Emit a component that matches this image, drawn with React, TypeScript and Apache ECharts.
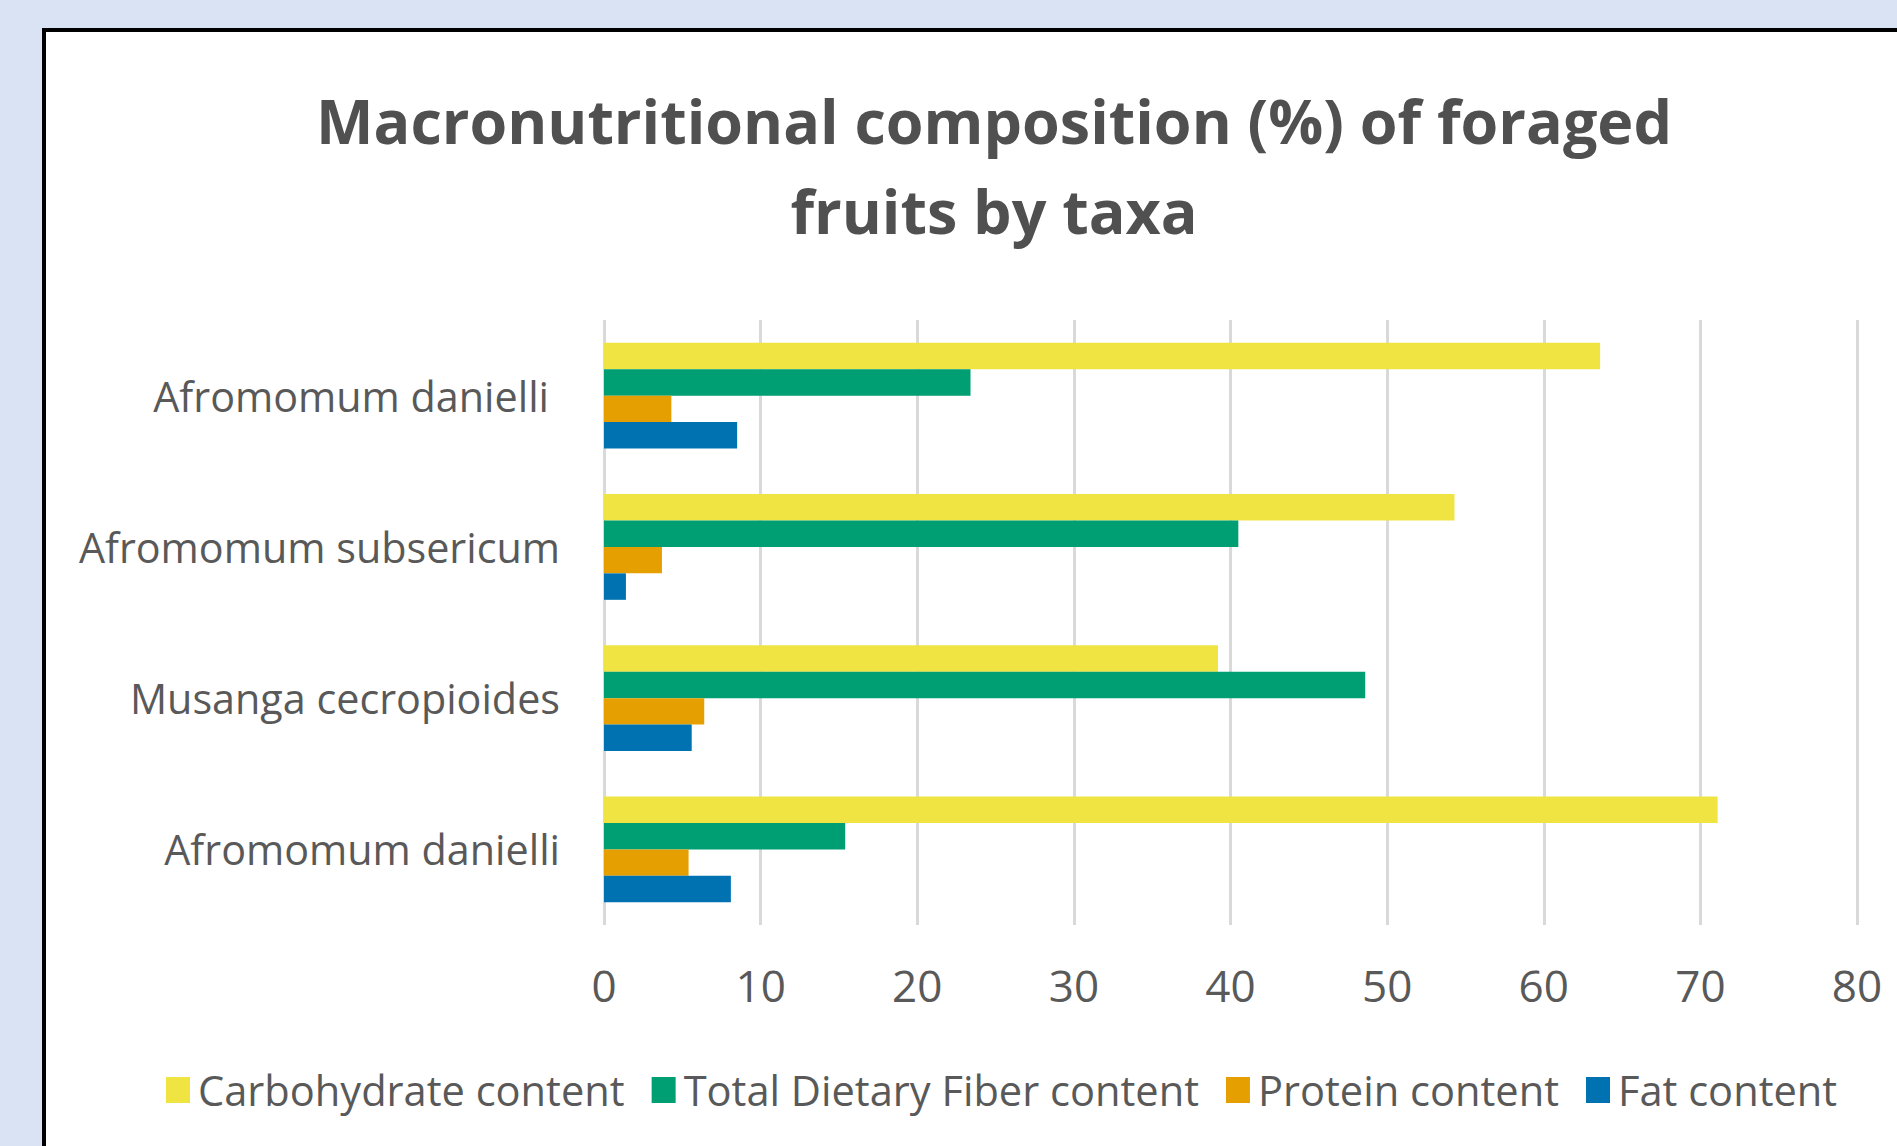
import React, { useEffect, useRef } from "react";
import * as echarts from "echarts";

// Categories from bottom to top (ECharts category axis starts at the bottom)
const categories = [
  "Afromomum danielli",
  "Musanga cecropioides",
  "Afromomum subsericum",
  "Afromomum danielli",
];
const seriesNames = [
  "Carbohydrate content",
  "Total Dietary Fiber content",
  "Protein content",
  "Fat content",
];
const carbohydrate = [71.1, 39.2, 54.3, 63.6];
const fiber = [15.4, 48.6, 40.5, 23.4];
const protein = [5.4, 6.4, 3.7, 4.3];
const fat = [8.1, 5.6, 1.4, 8.5];
const xMin = 0;
const xMax = 80;
const xStep = 10;
const colors = ["#F0E442", "#009E73", "#E69F00", "#0072B2"];
const titleText = "Macronutritional composition (%) of foraged\nfruits by taxa";

const FONT = '"Open Sans", "Noto Sans", sans-serif';
const GRAY = "#595959";

export default function App() {
  const ref = useRef<HTMLDivElement>(null);

  useEffect(() => {
    if (!ref.current) return;
    const chart = echarts.init(ref.current, null, { renderer: "svg" });
    const values = [carbohydrate, fiber, protein, fat];
    chart.setOption({
      animation: false,
      backgroundColor: "transparent",
      graphic: [
        {
          type: "text",
          x: 994,
          y: 75,
          silent: true,
          style: {
            text: titleText,
            fontFamily: FONT,
            fontSize: 61,
            fontWeight: "bold",
            fill: "#505050",
            align: "center",
            verticalAlign: "top",
            lineHeight: 90,
          },
        },
      ],
      legend: {
        data: seriesNames,
        left: 166,
        top: 1069,
        padding: 0,
        icon: "rect",
        itemWidth: 24,
        itemHeight: 26,
        itemGap: 27,
        textStyle: {
          fontFamily: FONT,
          fontSize: 41.6,
          color: GRAY,
          padding: [0, 0, 0, 3],
        },
      },
      grid: {
        left: 604,
        right: 40,
        top: 320,
        bottom: 221,
        containLabel: false,
      },
      xAxis: {
        type: "value",
        min: xMin,
        max: xMax,
        interval: xStep,
        axisLine: { show: false },
        axisTick: { show: false },
        splitLine: { show: true, lineStyle: { color: "#D9D9D9", width: 3 } },
        axisLabel: {
          fontFamily: FONT,
          fontSize: 44,
          color: GRAY,
          margin: 38,
        },
      },
      yAxis: {
        type: "category",
        data: categories.map((_, i) => String(i)),
        axisLine: { show: false },
        axisTick: { show: false },
        splitLine: { show: false },
        axisLabel: {
          fontFamily: FONT,
          fontSize: 41.3,
          color: GRAY,
          margin: 44,
          formatter: (_v: string, i: number) =>
            i === categories.length - 1 ? `{pad|${categories[i]}}` : categories[i],
          rich: {
            pad: {
              fontFamily: FONT,
              fontSize: 41.3,
              color: GRAY,
              padding: [0, 11, 0, 0],
            },
          },
        },
      },
      series: seriesNames.map((name, k) => ({
        name,
        type: "bar",
        data: values[k],
        barGap: "0%",
        barCategoryGap: "30%",
        itemStyle: { color: colors[k] },
      })),
    });
    return () => chart.dispose();
  }, []);

  return (
    <div
      style={{
        position: "fixed",
        left: 0,
        top: 0,
        width: 1897,
        height: 1146,
        background: "#DAE3F3",
        overflow: "hidden",
      }}
    >
      <div
        style={{
          position: "absolute",
          left: 42,
          top: 28,
          width: 1897,
          height: 1146,
          border: "4px solid #000",
          background: "#FFFFFF",
        }}
      />
      <div
        ref={ref}
        style={{ position: "absolute", left: 0, top: 0, width: 1897, height: 1146 }}
      />
    </div>
  );
}
